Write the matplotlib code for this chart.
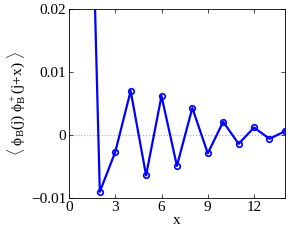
import matplotlib
matplotlib.use("Agg")
import matplotlib.pyplot as plt

plt.rcParams["font.family"] = ["Liberation Serif", "DejaVu Serif"]
plt.rcParams["mathtext.fontset"] = "custom"
plt.rcParams["mathtext.rm"] = "Liberation Serif"
plt.rcParams["mathtext.it"] = "Liberation Serif:italic"

# correlation values (x = 1 runs off the top)
x_vals = [1, 2, 3, 4, 5, 6, 7, 8, 9, 10, 11, 12, 13, 14]
corr = [0.085, -0.0090, -0.0027, 0.0070, -0.0064, 0.0062, -0.0049,
        0.0043, -0.0029, 0.0021, -0.0014, 0.0012, -0.0006, 0.0006]
x_ticks = [0, 3, 6, 9, 12]
y_ticks = [-0.01, 0, 0.01, 0.02]
y_ticklabels = ["\u22120.01", "0", "0.01", "0.02"]

fig = plt.figure(figsize=(2.91, 2.41), dpi=100)
ax = fig.add_axes([0.237, 0.178, 0.742, 0.785])

ax.axhline(0, color="#b0b0b0", linestyle=":", linewidth=0.8, zorder=1)
ax.plot(x_vals, corr, color="#0000ff", linewidth=1.6, marker="o",
        markersize=4.0, markerfacecolor="none", markeredgewidth=1.2,
        clip_on=True, zorder=3)

ax.set_xlim(0, 14)
ax.set_ylim(-0.01, 0.02)
ax.set_xticks(x_ticks)
ax.set_yticks(y_ticks)
ax.set_yticklabels(y_ticklabels)
ax.tick_params(direction="in", top=True, right=True, labelsize=11,
               length=3, width=0.5, pad=2)
for sp in ax.spines.values():
    sp.set_linewidth(0.6)

ax.set_xlabel("x", fontsize=11, labelpad=0)
ax.set_ylabel(r"$\langle\ \mathrm{\phi_B(j)\ \phi_B^+(j\!+\!x)}\ \rangle$",
              fontsize=11, labelpad=2)

fig.savefig("out.png", dpi=100)
